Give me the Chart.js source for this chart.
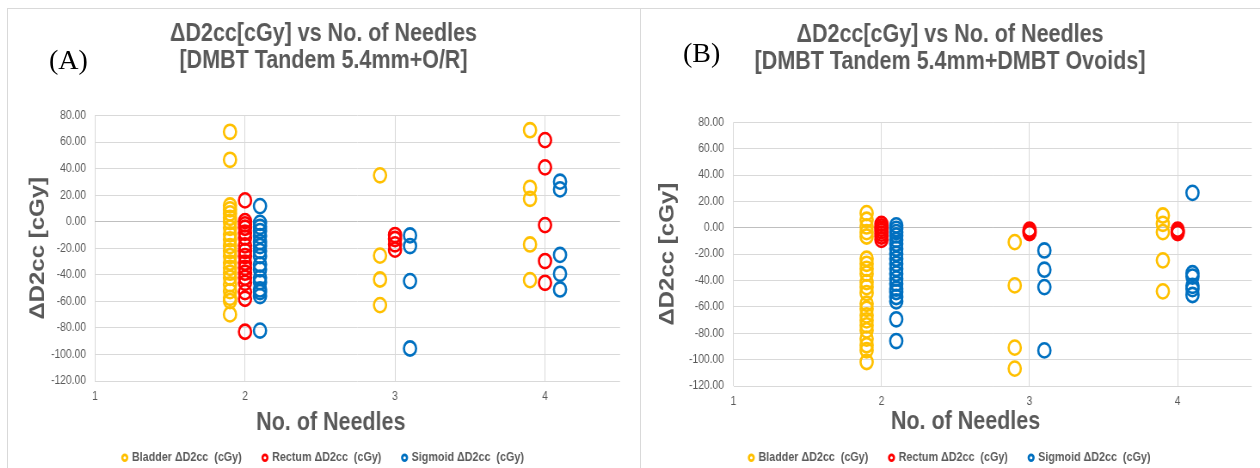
<!DOCTYPE html>
<html><head><meta charset="utf-8">
<script src="https://cdn.jsdelivr.net/npm/chart.js@4.4.1/dist/chart.umd.min.js"></script>
<style>
html,body{margin:0;padding:0;width:1260px;height:468px;overflow:hidden;background:#fff;}
.panel{position:absolute;top:0;height:474px;transform-origin:0 0;transform:scaleX(0.86);}
#pA{left:7px;width:736px;}
#pB{left:640px;width:721px;}
#frameA{position:absolute;left:7px;top:8px;width:632px;height:470px;border:1px solid #d9d9d9;border-bottom:none;}
#frameB{position:absolute;left:640px;top:8px;width:620px;height:0;border-top:1px solid #d9d9d9;}
.lab{position:absolute;font-family:"Liberation Serif","Times New Roman",serif;font-size:28px;color:#000;line-height:28px;}
</style>
</head><body>
<div id="frameA"></div><div id="frameB"></div>
<div class="panel" id="pA"><canvas id="cA"></canvas></div>
<div class="panel" id="pB"><canvas id="cB"></canvas></div>
<div class="lab" style="left:49px;top:46px;">(A)</div>
<div class="lab" style="left:683px;top:39px;">(B)</div>
<script>
// ---- data ----
const needleTicks = [1, 2, 3, 4];
const needleGroups = [2, 3, 4];
const seriesNames = ['Bladder ΔD2cc  (cGy)', 'Rectum ΔD2cc  (cGy)', 'Sigmoid ΔD2cc  (cGy)'];
const seriesColors = ['#FFC000', '#FF0000', '#0070C0'];
const seriesOffsets = [-0.1, 0, 0.1];

// Panel A: DMBT Tandem 5.4mm + O/R
const A_bladder_2 = [67.8, 46.7, 12.3, 9.3, 6.3, 3.0, -0.3, -4.5, -9.5, -13.3, -18.3, -22.1, -25.9, -30.9, -34.7, -38.4, -42.2, -47.2, -52.3, -57.3, -59.8, -69.8];
const A_bladder_3 = [35.0, -25.5, -43.5, -62.8];
const A_bladder_4 = [69.0, 25.6, 17.3, -17.1, -44.0];
const A_rectum_2 = [16.1, 0.5, -2.0, -4.5, -8.3, -12.0, -17.8, -22.0, -25.9, -30.9, -34.7, -38.4, -42.2, -46.0, -53.0, -58.0, -82.9];
const A_rectum_3 = [-10.0, -13.0, -17.0, -21.0];
const A_rectum_4 = [61.5, 41.0, -2.5, -29.6, -46.0];
const A_sigmoid_2 = [11.8, -0.8, -3.8, -7.0, -10.8, -15.3, -18.3, -22.1, -25.9, -32.2, -35.9, -42.2, -45.5, -51.0, -53.0, -56.0, -82.0];
const A_sigmoid_3 = [-10.3, -18.3, -44.7, -95.5];
const A_sigmoid_4 = [30.2, 24.4, -25.0, -39.2, -51.0];

// Panel B: DMBT Tandem 5.4mm + DMBT Ovoids
const B_bladder_2 = [11.1, 6.1, 1.0, -3.3, -6.6, -23.5, -27.3, -31.1, -34.8, -41.2, -45.0, -49.5, -57.6, -61.4, -66.4, -70.2, -74.0, -77.8, -84.1, -89.1, -92.9, -101.8];
const B_bladder_3 = [-10.9, -43.7, -90.9, -106.8];
const B_bladder_4 = [9.3, 3.0, -3.3, -24.7, -48.2];
const B_rectum_2 = [3.0, 1.0, -0.8, -2.5, -4.5, -6.6, -9.1];
const B_rectum_3 = [-1.5, -2.8, -4.0];
const B_rectum_4 = [-1.5, -2.8, -4.0];
const B_sigmoid_2 = [1.8, -0.8, -3.3, -5.8, -9.1, -12.1, -15.9, -19.7, -23.5, -27.3, -31.1, -34.8, -38.6, -42.4, -46.2, -48.7, -52.5, -55.8, -69.4, -85.9];
const B_sigmoid_3 = [-17.2, -31.8, -45.0, -93.0];
const B_sigmoid_4 = [26.5, -34.5, -37.0, -44.0, -46.5, -51.0];

const titleA = ['ΔD2cc[cGy] vs No. of Needles', '[DMBT Tandem 5.4mm+O/R]'];
const titleB = ['ΔD2cc[cGy] vs No. of Needles', '[DMBT Tandem 5.4mm+DMBT Ovoids]'];
const yTitle = 'ΔD2cc [cGy]';
const xTitle = 'No. of Needles';
const yMin = -120, yMax = 80, yStep = 20, xMin = 1, xMax = 4.5;

// ---- rendering ----
const FONT = '"Liberation Sans", Arial, Helvetica, sans-serif';
const GREY = '#595959';

function seriesPoints(groups, offset) {
  const pts = [];
  groups.forEach((vals, gi) => vals.forEach(v => pts.push({x: needleGroups[gi] + offset, y: v})));
  return pts;
}

const xTitlePlugin = {
  id: 'xTitleDraw',
  afterDraw(chart, args, opts) {
    const {ctx, chartArea} = chart;
    ctx.save();
    ctx.font = 'bold 25px ' + FONT;
    ctx.fillStyle = GREY;
    ctx.textAlign = 'center';
    ctx.textBaseline = 'middle';
    ctx.fillText(opts.text, (chartArea.left + chartArea.right) / 2 + opts.dx, opts.y);
    ctx.restore();
  }
};

function makeChart(id, title, seriesGroups, L) {
  const datasets = seriesGroups.map((groups, i) => ({
    label: seriesNames[i],
    data: seriesPoints(groups, seriesOffsets[i]),
    borderColor: seriesColors[i],
    backgroundColor: 'rgba(255,255,255,0)',
    pointStyle: 'circle',
    pointRadius: 7.1,
    pointHoverRadius: 7.1,
    pointBorderWidth: 2.6,
    borderWidth: 2.6,
    showLine: false
  }));
  return new Chart(document.getElementById(id), {
    type: 'scatter',
    data: {datasets},
    plugins: [xTitlePlugin],
    options: {
      animation: false,
      responsive: true,
      maintainAspectRatio: false,
      devicePixelRatio: 1,
      layout: {padding: 0},
      plugins: {
        tooltip: {enabled: false},
        title: {
          display: true, text: title, color: GREY,
          font: {family: FONT, size: 25, weight: 'bold', lineHeight: 27 / 25},
          padding: {top: L.titleTop, bottom: L.titleBottom}
        },
        legend: {
          display: true, position: 'bottom',
          labels: {
            usePointStyle: true, boxWidth: 4, boxHeight: 4, padding: 25,
            color: GREY, font: {family: FONT, size: 12.5, weight: 'bold'}
          }
        },
        xTitleDraw: {text: xTitle, dx: L.xTitleDx, y: L.xTitleY}
      },
      scales: {
        x: {
          type: 'linear', min: xMin, max: xMax,
          afterBuildTicks: s => { s.ticks = needleTicks.map(v => ({value: v})); },
          afterFit: s => { s.height = s.chart.height - s.chart.legend.height - L.areaBottom; },
          ticks: {color: GREY, font: {family: FONT, size: 12}, padding: L.xTickPad, maxRotation: 0, callback: v => String(v)},
          grid: {color: '#d9d9d9', lineWidth: 1, drawTicks: false},
          border: {display: false}
        },
        y: {
          min: yMin, max: yMax,
          afterFit: s => { s.width = L.yWidth; },
          ticks: {stepSize: yStep, color: GREY, font: {family: FONT, size: 12}, padding: L.yTickPad, callback: v => Number(v).toFixed(2)},
          grid: {color: c => (c.tick && c.tick.value === 0) ? '#bfbfbf' : '#d9d9d9', lineWidth: 1, drawTicks: false},
          border: {display: false},
          title: {display: true, text: yTitle, color: GREY, font: {family: FONT, size: 24, weight: 'bold'}, padding: {top: L.yTitlePad, bottom: 0}}
        },
        ySpacer: {
          type: 'linear', position: 'right', display: true,
          afterFit: s => { s.width = L.padRight; },
          ticks: {display: false}, grid: {display: false}, border: {display: false}
        }
      }
    }
  });
}

makeChart('cA', titleA,
  [[A_bladder_2, A_bladder_3, A_bladder_4], [A_rectum_2, A_rectum_3, A_rectum_4], [A_sigmoid_2, A_sigmoid_3, A_sigmoid_4]],
  {padRight: 23.2, titleTop: 21, titleBottom: 40.6, areaBottom: 381, xTickPad: 8, yWidth: 102.3, yTickPad: 10.4, yTitlePad: 21.6, xTitleDx: -31, xTitleY: 422.7});
makeChart('cB', titleB,
  [[B_bladder_2, B_bladder_3, B_bladder_4], [B_rectum_2, B_rectum_3, B_rectum_4], [B_sigmoid_2, B_sigmoid_3, B_sigmoid_4]],
  {padRight: 3.9, titleTop: 21.5, titleBottom: 46.8, areaBottom: 386, xTickPad: 8.5, yWidth: 108.5, yTickPad: 10.8, yTitlePad: 18.2, xTitleDx: -31.4, xTitleY: 421.7});
</script>
</body></html>
